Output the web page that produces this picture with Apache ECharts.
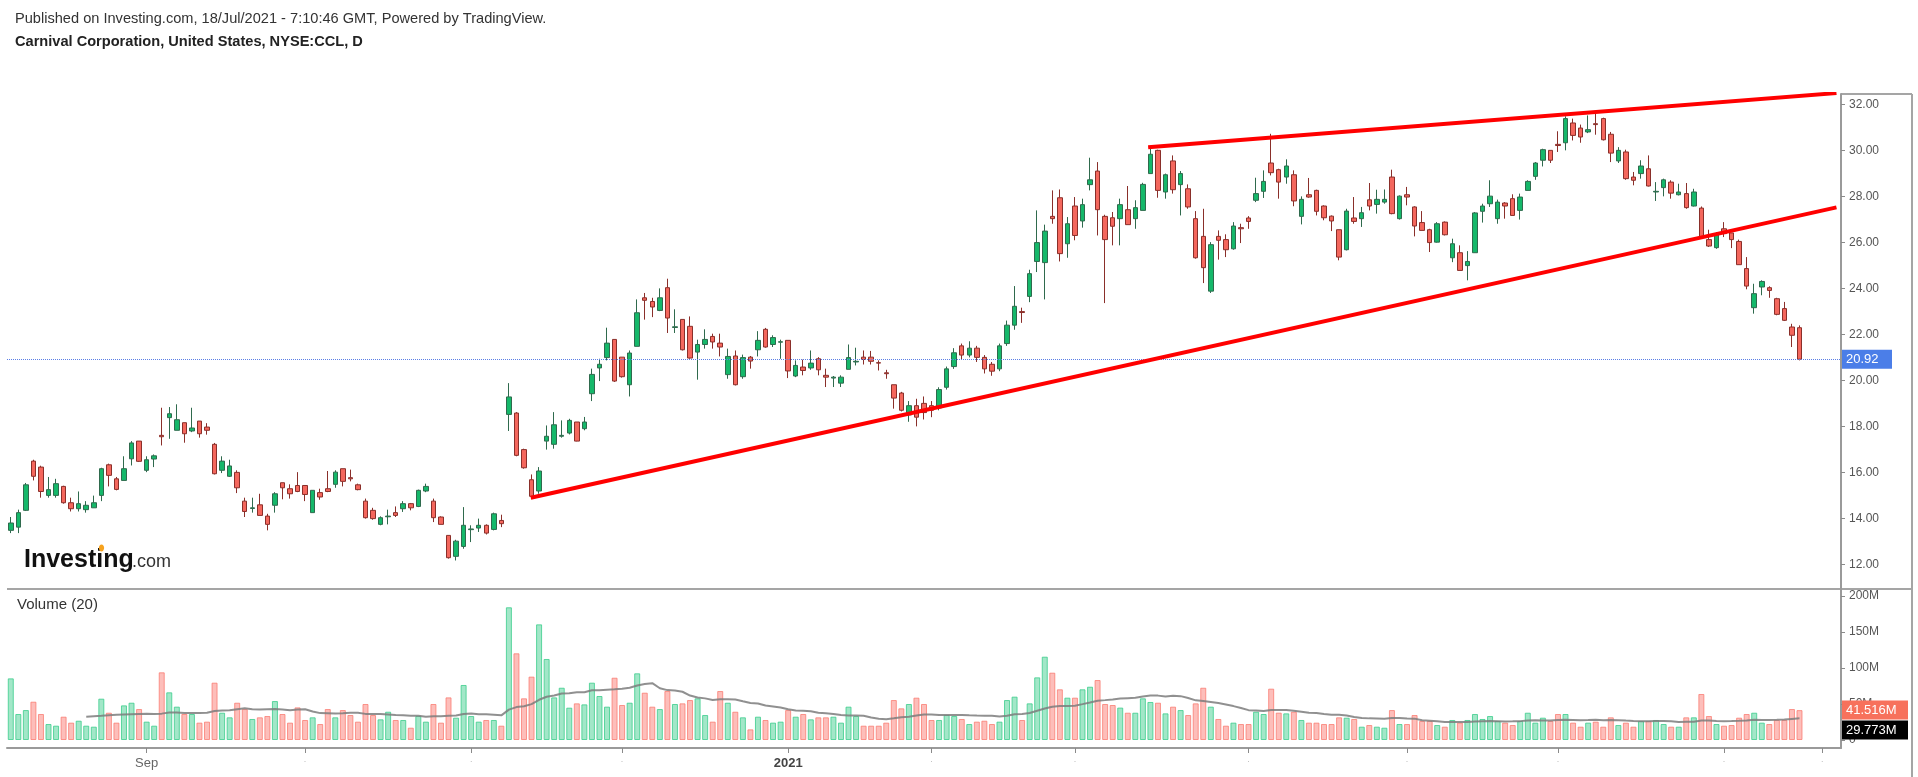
<!DOCTYPE html>
<html><head><meta charset="utf-8">
<script src="https://cdn.jsdelivr.net/npm/echarts@6/dist/echarts.min.js"></script>
<style>html,body{margin:0;padding:0;background:#fff;}#c{width:1918px;height:777px;}</style>
</head><body><div id="c"></div>
<script>
// ---- data ----
const openP = [13.48,13.62,14.35,16.49,16.23,15.00,15.00,15.39,14.68,14.42,
14.38,14.46,15.00,16.33,15.72,15.65,16.59,17.36,16.09,16.58,
17.61,18.38,17.83,18.16,17.80,18.23,17.97,17.22,16.09,15.83,
16.00,14.75,14.43,14.59,14.10,14.57,15.55,15.29,15.43,15.43,
14.25,15.12,15.29,15.48,16.16,15.77,15.46,14.75,14.35,13.74,
14.07,14.25,14.42,14.64,14.52,15.19,14.75,14.06,13.26,12.35,
12.78,13.51,13.58,13.70,13.52,13.91,18.52,18.58,16.99,15.68,
15.19,17.36,17.22,17.57,17.71,18.19,17.90,19.42,20.54,20.99,
21.78,21.01,19.81,21.48,23.59,23.43,23.04,24.03,22.30,22.65,
22.35,21.23,21.56,21.91,21.62,20.25,21.06,20.16,21.01,21.33,
22.22,21.56,21.66,21.74,20.19,20.58,20.54,20.94,20.22,20.10,
19.88,20.48,20.80,21.01,21.01,20.77,20.33,19.81,19.45,18.50,
18.90,19.00,18.90,18.80,19.70,20.60,21.50,21.10,21.40,21.00,
20.70,20.50,21.60,22.40,22.99,23.65,25.17,25.12,27.13,27.94,
25.94,27.58,26.93,28.51,29.10,27.13,27.07,27.03,27.42,27.03,
27.39,28.99,30.00,28.19,29.54,28.51,28.33,27.03,26.26,23.88,
26.26,26.12,25.72,26.64,27.06,27.83,28.22,29.45,29.16,28.84,
28.94,27.13,28.07,28.26,27.58,27.14,26.55,25.68,27.06,27.03,
27.85,27.65,27.75,28.84,27.03,28.07,27.54,26.86,26.55,26.01,
26.88,25.33,25.55,24.99,25.55,27.35,27.68,27.03,27.71,27.90,
27.39,28.26,28.87,29.57,30.00,30.26,30.33,31.19,30.97,30.80,
31.16,31.38,30.70,29.54,29.93,28.84,28.99,29.20,28.19,28.38,
28.62,28.07,28.12,27.58,27.49,26.12,25.77,26.59,26.41,26.04,
24.86,23.16,24.06,24.03,23.55,23.12,22.32,22.29];
const closeP = [13.80,14.25,15.46,15.83,15.17,15.25,15.51,14.68,14.42,14.64,
14.57,14.68,16.16,15.87,15.26,16.16,17.28,16.48,16.55,16.72,
17.55,18.55,18.29,17.68,17.93,17.68,17.83,15.94,16.49,16.28,
15.33,14.30,14.46,14.13,13.74,15.07,15.33,15.07,15.17,15.04,
15.22,14.93,15.17,16.01,15.61,15.72,15.25,14.03,13.99,14.03,
14.10,14.13,14.64,14.46,15.22,15.39,14.03,13.74,12.29,13.01,
13.70,13.54,13.70,13.36,14.20,13.77,19.28,16.74,16.20,14.96,
16.06,17.57,18.07,17.61,18.26,17.36,18.19,20.26,20.70,21.62,
19.97,20.16,21.19,22.94,23.48,23.19,23.59,22.71,22.33,21.33,
20.97,21.56,21.78,21.67,21.45,21.04,19.81,20.99,20.84,21.74,
21.45,21.86,21.68,20.41,20.65,20.43,20.75,20.46,20.14,20.14,
20.14,20.99,20.83,20.91,20.83,20.75,20.29,19.23,18.70,18.90,
18.40,18.60,18.70,19.60,20.50,21.20,21.10,21.40,21.00,20.50,
20.40,21.50,22.40,23.22,22.95,24.64,25.99,26.49,27.03,25.51,
26.81,26.30,27.64,28.72,27.42,26.12,26.70,27.64,26.77,27.51,
28.52,29.83,28.26,28.94,28.29,28.99,27.54,25.33,24.90,25.90,
26.09,25.68,26.71,26.59,26.91,28.12,28.65,29.03,28.62,29.32,
27.80,27.87,27.97,27.35,27.07,26.93,25.36,27.36,26.91,27.29,
27.58,27.87,27.87,27.25,28.01,27.97,26.71,26.52,25.99,26.81,
26.33,25.94,24.78,25.17,27.28,27.58,28.01,27.75,27.58,27.17,
27.97,28.65,29.45,30.03,29.57,30.21,31.38,30.65,30.58,30.90,
31.12,30.46,29.88,30.00,28.77,28.70,29.32,28.45,28.22,28.72,
28.14,28.19,27.51,28.19,26.23,25.84,26.35,26.38,26.12,25.03,
24.10,23.77,24.30,23.91,22.87,22.61,21.96,20.92];
const highP = [14.06,14.38,15.54,16.55,16.29,15.80,15.72,15.42,14.90,15.17,
14.75,14.99,16.20,16.38,15.80,16.70,17.36,17.36,16.70,16.78,
18.81,18.84,18.96,18.16,18.81,18.23,18.14,17.28,16.70,16.55,
16.09,14.90,14.90,15.07,14.20,15.14,15.55,15.48,16.01,15.43,
15.22,15.29,16.06,16.09,16.16,16.12,15.51,14.86,14.46,14.09,
14.38,14.52,14.75,14.67,15.25,15.51,14.86,14.09,13.26,13.07,
14.49,13.70,13.99,13.74,14.25,14.16,19.88,18.62,17.03,15.91,
16.23,18.04,18.62,18.26,18.33,18.19,18.41,20.51,20.94,22.29,
21.78,21.01,21.30,23.52,23.80,23.59,24.00,24.42,23.09,22.65,
22.78,21.77,22.22,22.03,22.03,21.38,21.30,21.12,21.06,22.14,
22.28,21.96,21.77,21.74,20.87,20.90,21.30,21.01,20.51,20.19,
20.22,21.56,21.42,21.30,21.28,20.87,20.46,19.81,19.50,19.10,
19.20,19.30,19.10,19.70,20.60,21.40,21.60,21.70,21.50,21.10,
20.80,21.60,22.60,24.10,23.16,24.81,27.39,26.77,28.26,28.30,
27.10,27.97,27.90,29.68,29.49,27.20,27.32,27.90,28.45,27.83,
28.59,30.07,30.03,28.99,29.78,29.10,28.52,27.36,27.46,26.01,
26.52,26.35,26.88,26.81,27.14,28.81,29.13,30.72,29.20,29.61,
29.13,28.00,28.80,28.29,27.61,27.17,26.55,27.46,27.97,27.54,
28.58,28.29,28.30,29.16,28.04,28.41,27.57,27.36,26.59,26.88,
26.91,26.16,25.87,25.62,27.32,27.68,28.70,27.86,27.75,28.09,
28.12,28.70,29.49,30.07,30.00,30.83,31.48,31.38,31.12,31.52,
31.62,31.42,30.80,30.14,30.03,29.06,29.57,29.78,28.62,28.77,
28.70,28.55,28.58,28.33,27.56,26.55,26.45,26.88,26.41,26.12,
25.36,24.20,24.35,24.09,23.59,23.41,22.46,22.39];
const lowP = [13.36,13.36,14.32,15.65,14.90,14.90,14.90,14.64,14.30,14.30,
14.25,14.46,14.75,15.39,15.22,15.65,16.30,16.45,16.01,16.23,
17.17,17.46,17.83,17.29,17.75,17.51,17.64,15.91,15.97,15.80,
15.10,14.06,14.25,14.13,13.48,14.25,14.83,14.86,15.14,14.75,
14.25,14.81,15.14,15.33,15.39,15.61,15.22,13.99,13.94,13.70,
13.74,14.06,14.28,14.35,14.49,15.14,13.84,13.74,12.25,12.17,
12.68,12.97,13.41,13.30,13.48,13.62,17.80,16.70,16.16,14.93,
15.07,16.99,17.03,17.51,17.65,17.35,17.83,19.10,19.97,20.87,
19.93,20.12,19.30,21.48,22.64,22.75,23.01,22.06,22.06,21.30,
20.94,20.03,21.38,21.38,21.04,20.07,19.78,20.07,20.51,21.04,
21.42,21.45,20.94,20.10,20.14,20.22,20.46,20.22,19.71,19.71,
19.71,20.48,20.65,20.69,20.69,20.43,20.07,18.77,18.65,18.20,
18.00,18.30,18.40,18.70,19.60,20.50,20.90,21.00,20.80,20.30,
20.20,20.40,21.50,22.20,22.50,23.40,24.71,23.52,26.81,25.17,
25.33,26.09,26.64,28.26,26.30,23.36,25.87,25.87,26.77,26.59,
27.39,28.99,27.94,27.90,28.12,27.17,27.46,25.29,24.23,23.80,
25.25,25.36,25.68,25.97,26.59,27.75,27.93,28.91,27.90,28.55,
27.57,26.78,27.94,27.17,26.96,26.49,25.22,25.65,26.81,26.67,
27.39,27.25,27.68,27.22,26.99,27.61,26.26,26.52,25.58,25.99,
26.30,25.14,24.78,24.35,25.55,26.86,27.54,26.81,27.03,27.17,
26.99,28.26,28.72,29.30,29.45,29.93,30.00,30.43,30.33,30.75,
30.68,30.43,29.49,29.45,28.72,28.48,28.77,28.43,27.80,28.00,
27.90,28.04,27.46,27.56,26.20,25.80,25.72,26.23,25.75,25.03,
23.96,22.90,23.70,23.59,22.83,22.58,21.45,20.87];
// volume, millions of shares
const volumeM = [85.6,36.1,41.6,53.2,36.1,22.2,19.9,32.4,24.1,26.8,
19.9,18.5,57.4,37.9,24.1,48.1,51.8,43.0,25.5,19.9,
94.0,66.2,46.3,36.1,36.1,24.1,25.5,79.6,37.9,31.5,
51.8,43.0,29.2,31.5,33.3,54.1,36.1,24.1,45.3,27.8,
31.5,22.2,43.0,31.5,41.6,34.7,25.5,50.0,34.7,28.7,
39.3,27.8,27.8,17.1,33.3,25.5,50.0,24.1,59.2,31.0,
76.4,33.3,25.5,27.8,27.8,19.9,184.3,120.4,57.9,88.0,
160.6,112.5,59.2,72.6,44.9,50.9,49.5,79.6,61.1,46.3,
86.5,48.6,51.8,92.6,65.7,46.3,43.0,68.0,50.0,50.9,
55.5,57.9,34.7,25.5,68.0,51.8,39.3,31.5,14.8,32.4,
27.8,24.1,25.5,41.6,32.4,36.1,28.7,31.5,31.5,32.4,
24.1,46.3,33.3,19.9,19.9,19.9,24.1,55.5,44.0,50.0,
58.8,50.0,27.8,27.8,34.7,33.3,29.2,22.2,25.5,26.8,
22.2,25.5,55.5,60.2,27.8,50.9,87.0,115.7,93.5,70.4,
58.8,58.8,70.4,74.0,83.3,50.0,48.6,45.0,37.9,37.9,
57.9,52.8,51.8,37.0,46.3,41.6,34.7,50.9,72.6,46.3,
29.2,19.9,24.1,22.2,22.2,39.3,36.1,71.3,38.0,37.0,
39.3,27.8,24.1,24.1,22.2,22.2,31.5,31.0,29.2,18.5,
20.8,18.5,17.1,41.6,22.2,22.2,34.7,26.4,26.4,20.8,
18.5,27.8,24.1,27.8,36.1,29.2,33.3,26.4,24.1,20.8,
26.4,37.9,24.1,31.0,26.4,36.1,36.1,24.1,18.5,24.1,
25.5,18.5,31.5,20.8,24.1,18.5,26.4,26.4,27.8,22.2,
18.5,18.5,31.5,31.5,63.9,33.3,22.2,19.9,20.8,31.0,
36.1,37.9,24.1,22.2,27.8,27.8,43.0,41.516];
const volMaHead = [32.4,33.0,33.6,34.3,35.0,35.5,35.9,36.2,36.5];
const volMaStart = 10;
// time axis ticks (bar index) and their texts
const tickIdx  = [18, 39, 61, 81, 103, 122, 141, 164, 185, 205, 227, 240];
const tickText = ['Sep','.','.','.','2021','.','.','.','.','.','.','.'];
const priceTicks = [12,14,16,18,20,22,24,26,28,30,32];
const volTicks = [0,50,100,150,200];
// trend lines: [bar position, price]
const supportLine = [[68.9, 14.90], [241.9, 27.52]];
const resistLine  = [[150.7, 30.14], [241.9, 32.49]];
const lastPrice = 20.92, lastVolume = 41.516, lastVolMa = 29.773;
const holidays = ['2020-09-07','2020-11-26','2020-12-25','2021-01-01','2021-01-18','2021-02-15','2021-04-02','2021-05-31','2021-07-05'];
const totalSlots = 243;

// trading-day categories
const dates = [];
(function(){ let t = Date.UTC(2020,7,6);
  while (dates.length < totalSlots) { const d = new Date(t); const w = d.getUTCDay(); const s = d.toISOString().slice(0,10);
    if (w !== 0 && w !== 6 && holidays.indexOf(s) < 0) dates.push(s); t += 86400000; } })();

const FONT = '"Liberation Sans", Arial, sans-serif';
const candles = openP.map((o,i) => [o, closeP[i], lowP[i], highP[i]]);
const UPF = '#15b86a', DNF = '#f4675d', UPB = '#2f6a4d', DNB = '#8a2f2a';
const volBars = volumeM.map((v,i) => {
  const up = closeP[i] >= openP[i];
  return {value: v, itemStyle: {color: up ? 'rgba(60,205,140,0.48)' : 'rgba(250,120,110,0.48)', borderColor: up ? 'rgba(60,205,140,0.8)' : 'rgba(250,120,110,0.75)', borderWidth: 1}};
});
const volMa = volumeM.map((v,i) => {
  if (i < volMaStart) return '-';
  if (i < 19) return volMaHead[i - volMaStart];
  let s = 0; for (let k = i-19; k <= i; k++) s += volumeM[k]; return +(s/20).toFixed(3);
});

const chart = echarts.init(document.getElementById('c'));
const gl = 7, gr = 77;
const option = {
  animation: false,
  backgroundColor: '#fff',
  grid: [
    {left: gl, right: gr, top: 94, height: 495},
    {left: gl, right: gr, top: 589, height: 159}
  ],
  xAxis: [
    {type:'category', gridIndex:0, data: dates, boundaryGap: true, show: false},
    {type:'category', gridIndex:1, data: dates, boundaryGap: true,
      axisLine:{show:true, onZero:false, lineStyle:{color:'#9a9a9a', width:2}},
      axisTick:{show:true, alignWithLabel:true, length:5, interval:(i)=>tickIdx.indexOf(i)>=0, lineStyle:{color:'#8a8a8a', width:1}},
      axisLabel:{show:true, margin:9, interval:(i)=>tickIdx.indexOf(i)>=0,
        formatter:(v,i)=>{ const k = tickIdx.indexOf(i); if (k<0) return ''; const t = tickText[k];
          if (t === '.') return '{d|·}'; if (/^\d{4}$/.test(t)) return '{b|'+t+'}'; return '{n|'+t+'}'; },
        rich:{n:{color:'#666', fontSize:13, fontFamily:FONT}, b:{color:'#444', fontSize:13, fontWeight:'bold', fontFamily:FONT}, d:{color:'#bbb', fontSize:9}}},
      splitLine:{show:false}},
    {type:'value', gridIndex:0, min:-0.5, max: totalSlots-0.5, show:false}
  ],
  yAxis: [
    {type:'value', gridIndex:0, position:'right', min:10.93, max:32.45, scale:true,
      axisLine:{show:true, onZero:false, lineStyle:{color:'#9a9a9a', width:2}},
      axisTick:{show:true, length:4, customValues: priceTicks, lineStyle:{color:'#8a8a8a'}},
      axisLabel:{show:true, margin:8, customValues: priceTicks, formatter:(v)=>Number(v).toFixed(2), color:'#555', fontSize:12, fontFamily:FONT},
      splitLine:{show:false}},
    {type:'value', gridIndex:1, position:'right', min:-11.1, max:209.7, scale:true,
      axisLine:{show:true, onZero:false, lineStyle:{color:'#9a9a9a', width:2}},
      axisTick:{show:true, length:4, customValues: volTicks, lineStyle:{color:'#8a8a8a'}},
      axisLabel:{show:true, margin:8, customValues: volTicks, formatter:(v)=> v===0 ? '0' : v+'M', color:'#555', fontSize:12, fontFamily:FONT},
      splitLine:{show:false}}
  ],
  series: [
    {type:'candlestick', xAxisIndex:0, yAxisIndex:0, data: candles, barWidth:5, z:2,
      itemStyle:{color:UPF, color0:DNF, borderColor:UPB, borderColor0:DNB, borderWidth:1},
      markLine:{silent:true, symbol:['none','none'], label:{show:false},
        lineStyle:{type:'dotted', color:'#5b7fe6', width:1}, data:[{yAxis: lastPrice}]}},
    {type:'line', xAxisIndex:2, yAxisIndex:0, data: supportLine, symbol:'none', z:5,
      lineStyle:{color:'#ff0000', width:4}},
    {type:'line', xAxisIndex:2, yAxisIndex:0, data: resistLine, symbol:'none', z:5,
      lineStyle:{color:'#ff0000', width:4}},
    {type:'bar', xAxisIndex:1, yAxisIndex:1, data: volBars, barWidth:6, z:2},
    {type:'line', xAxisIndex:1, yAxisIndex:1, data: volMa, symbol:'none', z:4,
      lineStyle:{color:'#7d7d7d', width:2, opacity:0.85}}
  ]
};
chart.setOption(option);

const baseGraphics = [
  {type:'text', x:15, y:19, style:{text:'Published on Investing.com, 18/Jul/2021 - 7:10:46 GMT, Powered by TradingView.', font:'14.6px '+FONT, fill:'#333', verticalAlign:'middle'}},
  {type:'text', x:15, y:42, style:{text:'Carnival Corporation, United States, NYSE:CCL, D', font:'bold 14.6px '+FONT, fill:'#222', verticalAlign:'middle'}},
  {type:'text', x:17, y:605, style:{text:'Volume (20)', font:'15px '+FONT, fill:'#333', verticalAlign:'middle'}},
  {type:'text', x:24, y:573, style:{text:'Investing', font:'bold 25px '+FONT, fill:'#111', verticalAlign:'bottom'}},
  {type:'text', x:132, y:571.5, style:{text:'.com', font:'18px '+FONT, fill:'#333', verticalAlign:'bottom'}},
  {type:'ellipse', shape:{cx:101.5, cy:548, rx:2.6, ry:3.4}, style:{fill:'#f6a21e'}},
  {type:'line', shape:{x1:7, y1:589, x2:1912, y2:589}, style:{stroke:'#a5a5a5', lineWidth:2}},
  {type:'line', shape:{x1:1841, y1:94, x2:1912, y2:94}, style:{stroke:'#a5a5a5', lineWidth:2}},
  {type:'line', shape:{x1:1912, y1:94, x2:1912, y2:777}, style:{stroke:'#a5a5a5', lineWidth:2}}
];
function box(y, w, fill, text){
  return [
    {type:'rect', shape:{x:1842, y:y-9.5, width:w, height:19}, style:{fill:fill}, z:100},
    {type:'text', x:1846, y:y, style:{text:text, font:'13px '+FONT, fill:'#fff', verticalAlign:'middle'}, z:101}
  ];
}
const yP = chart.convertToPixel({yAxisIndex:0}, lastPrice);
const yV = chart.convertToPixel({yAxisIndex:1}, lastVolume);
let yM = chart.convertToPixel({yAxisIndex:1}, lastVolMa);
if (yM < yV + 20) yM = yV + 20;
const extra = [].concat(box(yP, 50, '#4b7ee8', lastPrice.toFixed(2)),
  box(yV, 66, '#f7715c', lastVolume.toFixed(3)+'M'),
  box(yM, 66, '#000000', lastVolMa.toFixed(3)+'M'));
chart.setOption({graphic: {elements: baseGraphics.concat(extra)}});
</script></body></html>
